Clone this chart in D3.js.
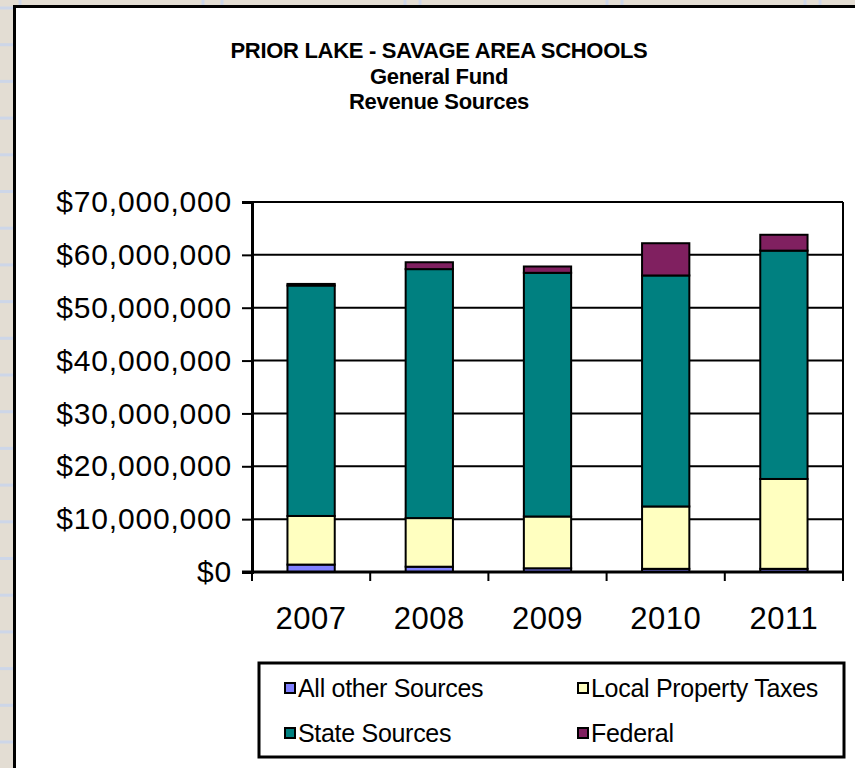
<!DOCTYPE html>
<html>
<head>
<meta charset="utf-8">
<script src="https://cdn.jsdelivr.net/npm/d3@7"></script>
<style>
  body { margin: 0; background: #e3ddd3; }
  text { font-family: "Liberation Sans", Arial, sans-serif; }
</style>
</head>
<body>
<div id="chart"></div>
<script>
// Data (dollars)
var years = ["2007", "2008", "2009", "2010", "2011"];
var allOther = [1400000, 1000000, 700000, 600000, 600000];
var localTaxes = [9200000, 9200000, 9800000, 11800000, 17000000];
var stateSources = [43600000, 47100000, 46100000, 43700000, 43200000];
var federal = [300000, 1300000, 1200000, 6100000, 3000000];

var seriesNames = ["All other Sources", "Local Property Taxes", "State Sources", "Federal"];
var seriesColors = ["#8080ff", "#ffffc0", "#008080", "#802060"];
var yTicks = [0, 10000000, 20000000, 30000000, 40000000, 50000000, 60000000, 70000000];

var W = 855, H = 768;
var plot = {left: 252, right: 843, top: 202, bottom: 572};

var svg = d3.select("#chart").append("svg")
    .attr("width", W)
    .attr("height", H);

// spreadsheet background
svg.append("rect").attr("width", W).attr("height", H).attr("fill", "#e3ddd3");
var bg = svg.append("g").attr("stroke", "#cdd6e8").attr("stroke-width", 3);
d3.range(8, H, 36.7).forEach(function(y) {
    bg.append("line").attr("x1", 0).attr("x2", 14).attr("y1", y).attr("y2", y);
});
[20, 203, 222, 405, 420, 607, 622, 805, 820].forEach(function(x) {
    bg.append("line").attr("x1", x).attr("x2", x).attr("y1", 0).attr("y2", 6);
});

// chart panel
svg.append("rect")
    .attr("x", 14.5).attr("y", 6.5)
    .attr("width", W).attr("height", H)
    .attr("fill", "#fff")
    .attr("stroke", "#000")
    .attr("stroke-width", 3);

// Title
var title = svg.append("text")
    .attr("x", 439)
    .attr("text-anchor", "middle")
    .style("font-weight", "bold")
    .style("font-size", "22px")
    .style("letter-spacing", "-0.3px");
["PRIOR LAKE - SAVAGE AREA SCHOOLS", "General Fund", "Revenue Sources"].forEach(function(t, i) {
    title.append("tspan").attr("x", 439).attr("y", 58 + i * 25.5).text(t);
});

// scales
var x = d3.scaleBand()
    .domain(years)
    .range([plot.left, plot.right])
    .paddingInner(0.6)
    .paddingOuter(0.3);

var y = d3.scaleLinear()
    .domain([0, 70000000])
    .range([plot.bottom, plot.top]);

// gridlines
svg.append("g")
    .selectAll("line")
    .data(yTicks)
    .join("line")
    .attr("x1", plot.left).attr("x2", plot.right)
    .attr("y1", function(d) { return y(d); })
    .attr("y2", function(d) { return y(d); })
    .attr("stroke", "#000")
    .attr("stroke-width", 2);

// right border of plot
svg.append("line")
    .attr("x1", plot.right).attr("x2", plot.right)
    .attr("y1", plot.top).attr("y2", plot.bottom)
    .attr("stroke", "#000").attr("stroke-width", 2);

// stacked bars
var table = years.map(function(yr, i) {
    return {year: yr, a: allOther[i], b: localTaxes[i], c: stateSources[i], d: federal[i]};
});
var stack = d3.stack().keys(["a", "b", "c", "d"]);
var layers = stack(table);

svg.append("g")
    .selectAll("g")
    .data(layers)
    .join("g")
    .attr("fill", function(d, i) { return seriesColors[i]; })
    .selectAll("rect")
    .data(function(d) { return d; })
    .join("rect")
    .attr("x", function(d) { return x(d.data.year); })
    .attr("y", function(d) { return y(d[1]); })
    .attr("width", x.bandwidth())
    .attr("height", function(d) { return y(d[0]) - y(d[1]); })
    .attr("stroke", "#000")
    .attr("stroke-width", 2);

// Y axis
var yAxis = svg.append("g")
    .attr("transform", "translate(" + plot.left + ",0)")
    .call(d3.axisLeft(y).tickValues(yTicks).tickFormat(d3.format("$,")).tickSize(10).tickPadding(10));
yAxis.select(".domain").attr("stroke-width", 3);
yAxis.selectAll(".tick line").attr("stroke-width", 2);
yAxis.selectAll("text")
    .style("font-size", "30px")
    .style("letter-spacing", "0.8px")
    .attr("fill", "#000");

// X axis line and ticks
svg.append("line")
    .attr("x1", plot.left - 10).attr("x2", plot.right + 1)
    .attr("y1", plot.bottom).attr("y2", plot.bottom)
    .attr("stroke", "#000").attr("stroke-width", 3);
svg.append("g")
    .selectAll("line")
    .data(d3.range(years.length + 1))
    .join("line")
    .attr("x1", function(i) { return plot.left + i * x.step(); })
    .attr("x2", function(i) { return plot.left + i * x.step(); })
    .attr("y1", plot.bottom).attr("y2", plot.bottom + 9)
    .attr("stroke", "#000").attr("stroke-width", 2);

svg.append("g")
    .selectAll("text")
    .data(years)
    .join("text")
    .attr("x", function(d) { return x(d) + x.bandwidth() / 2; })
    .attr("y", 629)
    .attr("text-anchor", "middle")
    .style("font-size", "31px")
    .style("letter-spacing", "0.5px")
    .text(function(d) { return d; });

// Legend
var legend = svg.append("g");
legend.append("rect")
    .attr("x", 259).attr("y", 663)
    .attr("width", 585).attr("height", 94)
    .attr("fill", "#fff")
    .attr("stroke", "#000")
    .attr("stroke-width", 3);

var legendPos = [[290, 688], [583, 688], [290, 733], [583, 733]];
var items = legend.selectAll("g.item")
    .data(seriesNames)
    .join("g")
    .attr("class", "item")
    .attr("transform", function(d, i) { return "translate(" + legendPos[i][0] + "," + legendPos[i][1] + ")"; });
items.append("rect")
    .attr("x", -5).attr("y", -5)
    .attr("width", 10).attr("height", 10)
    .attr("fill", function(d, i) { return seriesColors[i]; })
    .attr("stroke", "#000")
    .attr("stroke-width", 2);
items.append("text")
    .attr("x", 8)
    .attr("y", 9)
    .style("font-size", "25px")
    .style("letter-spacing", "-0.3px")
    .text(function(d) { return d; });
</script>
</body>
</html>
